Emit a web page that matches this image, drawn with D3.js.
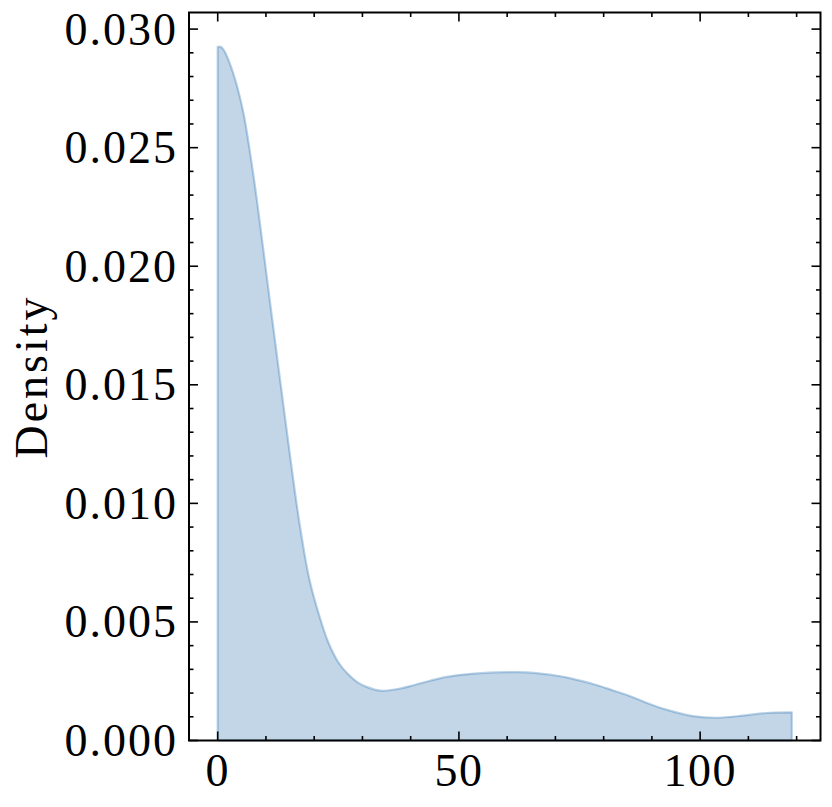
<!DOCTYPE html>
<html><head><meta charset="utf-8">
<script src="https://cdn.jsdelivr.net/npm/d3@7"></script>
<style>body{margin:0;background:#fff}svg{display:block}</style>
</head><body>
<svg id="c" width="832" height="807"></svg>
<script>
const xs = [0,0.6,1.3,2.6,4,5.4,7.5,9.2,10.9,13,15,17,19,21,23,25,27,29,31,33.7,37,40.6,44,47.5,52,57.8,62,66.1,70,73,78.5,82,85.4,89,93,98.5,103.4,108.9,113.7,119];
const density = [0.02925,0.02925,0.0291,0.0285,0.0276,0.0264,0.0237,0.0211,0.0184,0.0151,0.0120,0.0091,0.0068,0.0053,0.0041,0.0033,0.0028,0.00245,0.00225,0.0021,0.00216,0.00233,0.00252,0.00268,0.0028,0.00287,0.00288,0.00284,0.00274,0.00263,0.00234,0.00211,0.00188,0.00158,0.0013,0.00103,0.00096,0.00105,0.00116,0.00119];
const xTicks = [0,50,100];
const yTicks = [0,0.005,0.01,0.015,0.02,0.025,0.03];
const yLabel = "Density";

const data = xs.map((x,i)=>({x, y:density[i]}));
const W=832,H=807, m={l:189,r:11.5,t:12.5,b:66.5};
const svg=d3.select("#c");
const x=d3.scaleLinear().domain([-5.95,124.95]).range([m.l,W-m.r]);
const y=d3.scaleLinear().domain([0,0.0307]).range([H-m.b,m.t]);
const font="'Liberation Serif','DejaVu Serif',serif";

const area=d3.area().x(d=>x(d.x)).y0(y(0)).y1(d=>y(d.y)).curve(d3.curveCatmullRom.alpha(0.5));
svg.append("path").attr("d",area(data)+"Z").attr("fill","#0C5DA5").attr("fill-opacity",0.25)
  .attr("stroke","#0C5DA5").attr("stroke-opacity",0.28).attr("stroke-width",2.2).attr("stroke-linejoin","round");

const g=svg.append("g");
const x0=m.l, x1=W-m.r, y0=H-m.b, y1=m.t;
const tk=(a,b,c,d)=>g.append("line").attr("x1",a).attr("y1",b).attr("x2",c).attr("y2",d).attr("stroke","#000").attr("stroke-width",1.6);
d3.range(0,121,10).forEach(v=>{
  const L = xTicks.includes(v)?9:4.5, px=x(v);
  tk(px,y0,px,y0-L); tk(px,y1,px,y1+L);
});
d3.range(0,31,1).forEach(i=>{
  const v=i*0.001, L=(i%5===0)?9:4.5, py=y(v);
  if(py<y1) return;
  tk(x0,py,x0+L,py); tk(x1,py,x1-L,py);
});
g.append("rect").attr("x",x0).attr("y",y1).attr("width",x1-x0).attr("height",y0-y1)
  .attr("fill","none").attr("stroke","#000").attr("stroke-width",2);

const fmt=d3.format(".3f");
xTicks.forEach(v=>g.append("text").attr("x",x(v)).attr("y",786).attr("text-anchor","middle")
  .attr("font-family",font).attr("font-size",46).attr("letter-spacing",1.5).text(v));
yTicks.forEach(v=>g.append("text").attr("x",178).attr("y",y(v)+15.5).attr("text-anchor","end")
  .attr("font-family",font).attr("font-size",46).attr("letter-spacing",2).text(fmt(v)));
g.append("text").attr("transform",`translate(47,${(y0+y1)/2}) rotate(-90)`).attr("text-anchor","middle")
  .attr("font-family",font).attr("font-size",46).attr("letter-spacing",3).text(yLabel);
</script>
</body></html>
